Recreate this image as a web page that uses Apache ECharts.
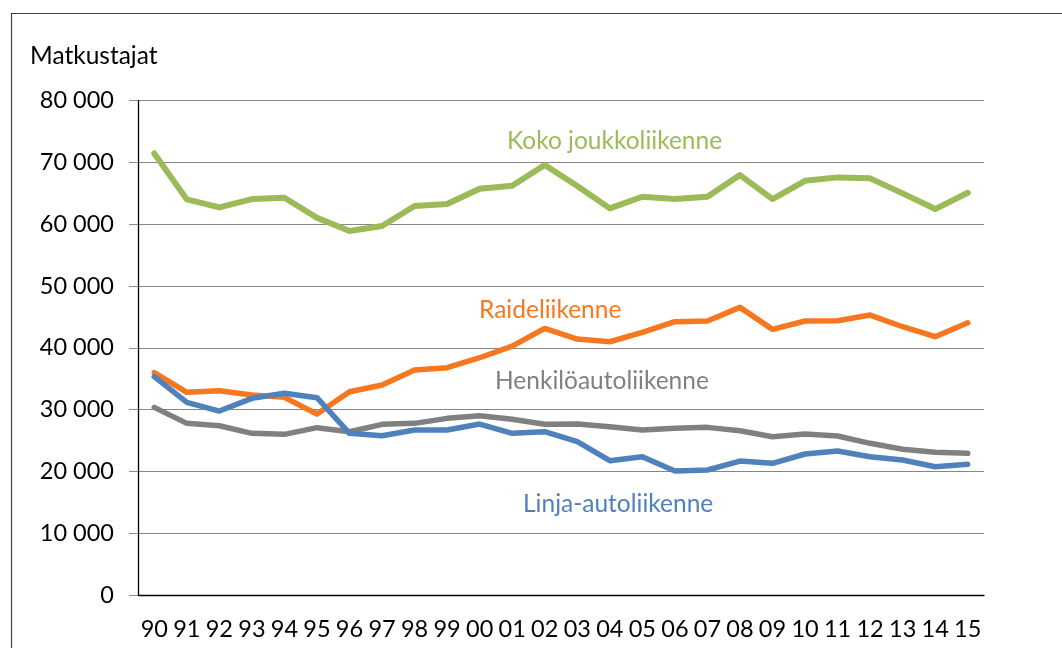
<!DOCTYPE html>
<html>
<head>
<meta charset="utf-8">
<script src="https://cdn.jsdelivr.net/npm/echarts@6/dist/echarts.min.js"></script>
<style>
html,body{margin:0;padding:0;background:#fff;}
#chart{width:1062px;height:648px;}
</style>
</head>
<body>
<div id="chart"></div>
<script>
const years = ['90','91','92','93','94','95','96','97','98','99','00','01','02','03','04','05','06','07','08','09','10','11','12','13','14','15'];
const kokoJoukkoliikenne = [71450,64030,62730,64080,64290,61060,58900,59710,62950,63270,65750,66230,69580,66200,62570,64450,64080,64450,67960,64080,67040,67590,67430,65000,62460,65100];
const raideliikenne = [35990,32800,33060,32360,31990,29290,32900,33980,36410,36780,38400,40290,43150,41420,40990,42510,44230,44340,46550,42990,44340,44390,45310,43420,41800,44060];
const henkiloautoliikenne = [30370,27780,27400,26160,26000,27080,26430,27620,27780,28590,29020,28430,27620,27670,27240,26700,26970,27130,26590,25620,26050,25730,24550,23580,23090,22930];
const linjaautoliikenne = [35330,31180,29770,31830,32640,31930,26160,25780,26700,26700,27670,26160,26430,24810,21730,22380,20060,20230,21680,21310,22820,23300,22380,21840,20760,21150];
const yTicks = [0,10000,20000,30000,40000,50000,60000,70000,80000];

const FONT = 'Lato';
const FS = 23.5;
const FSL = 24.5;
const C_GREEN = '#9BBB59', C_ORANGE = '#F7771F', C_BLUE = '#4F81BD', C_GREY = '#808080';

const chart = echarts.init(document.getElementById('chart'), null, {renderer:'canvas'});
function line(name, data, color, w){
  return {name, type:'line', data, symbol:'none', smooth:false,
    lineStyle:{color, width:w, cap:'round', join:'round'}, itemStyle:{color}, z:3};
}
chart.setOption({
  animation:false,
  backgroundColor:'#fff',
  textStyle:{fontFamily:FONT},
  grid:{left:138, right:78, top:100.7, bottom:53, containLabel:false},
  xAxis:{type:'category', data:years, boundaryGap:true,
    axisLine:{lineStyle:{color:'#000', width:1.3}},
    axisTick:{alignWithLabel:true, length:6, lineStyle:{color:'#8c8c8c'}},
    axisLabel:{color:'#000', fontSize:FS, fontFamily:FONT, margin:22, interval:0},
    splitLine:{show:false}},
  yAxis:{type:'value', min:yTicks[0], max:yTicks[yTicks.length-1], interval:10000,
    axisLine:{show:true, lineStyle:{color:'#000', width:1.3}},
    axisTick:{show:true, length:9, lineStyle:{color:'#8c8c8c'}},
    axisLabel:{color:'#000', fontSize:FS, fontFamily:FONT, margin:24,
      formatter:v => v===0 ? '0' : (v/1000)+' 000'},
    splitLine:{lineStyle:{color:'#868686', width:1.2}}},
  series:[
    line('Koko joukkoliikenne', kokoJoukkoliikenne, C_GREEN, 6),
    line('Raideliikenne', raideliikenne, C_ORANGE, 5.5),
    line('Henkilöautoliikenne', henkiloautoliikenne, C_GREY, 5.5),
    line('Linja-autoliikenne', linjaautoliikenne, C_BLUE, 5.5)
  ],
  graphic:[
    {type:'rect', left:9, top:11, shape:{width:1200, height:800}, style:{fill:'none', stroke:'#404040', lineWidth:1.2}, silent:true},
    {type:'text', left:30, top:44, style:{text:'Matkustajat', fill:'#000', font:FSL+'px '+FONT}},
    {type:'text', left:507, top:129, style:{text:'Koko joukkoliikenne', fill:C_GREEN, font:FSL+'px '+FONT}},
    {type:'text', left:479, top:298, style:{text:'Raideliikenne', fill:C_ORANGE, font:FSL+'px '+FONT}},
    {type:'text', left:495, top:369, style:{text:'Henkilöautoliikenne', fill:C_GREY, font:FSL+'px '+FONT}},
    {type:'text', left:523, top:492, style:{text:'Linja-autoliikenne', fill:C_BLUE, font:FSL+'px '+FONT}}
  ]
});
</script>
</body>
</html>
